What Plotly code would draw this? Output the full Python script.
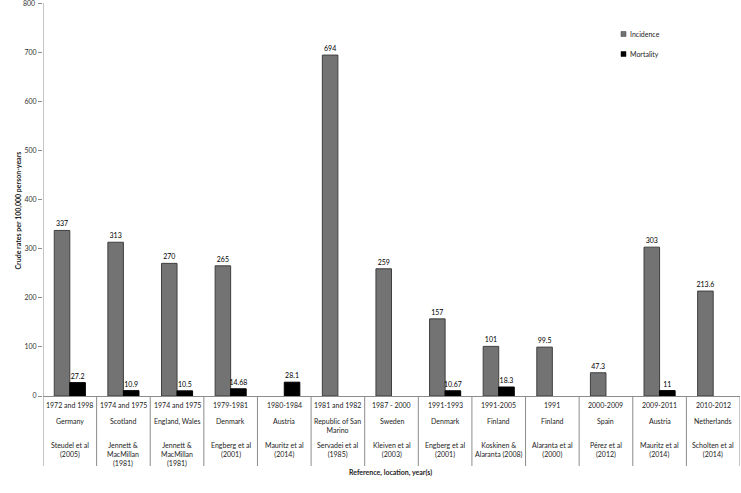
import plotly.graph_objects as go

# Data
years = ["1972 and 1998", "1974 and 1975", "1974 and 1975", "1979-1981", "1980-1984",
         "1981 and 1982", "1987 - 2000", "1991-1993", "1991-2005", "1991",
         "2000-2009", "2009-2011", "2010-2012"]
locations = ["Germany", "Scotland", "England, Wales", "Denmark", "Austria",
             "Republic of San<br>Marino", "Sweden", "Denmark", "Finland", "Finland",
             "Spain", "Austria", "Netherlands"]
references = ["Steudel et al<br>(2005)", "Jennett &<br>MacMillan<br>(1981)",
              "Jennett &<br>MacMillan<br>(1981)", "Engberg et al<br>(2001)",
              "Mauritz et al<br>(2014)", "Servadei et al<br>(1985)",
              "Kleiven et al<br>(2003)", "Engberg et al<br>(2001)",
              "Koskinen &<br>Alaranta (2008)", "Alaranta et al<br>(2000)",
              "Pérez et al<br>(2012)", "Mauritz et al<br>(2014)",
              "Scholten et al<br>(2014)"]
incidence = [337, 313, 270, 265, None, 694, 259, 157, 101, 99.5, 47.3, 303, 213.6]
incidence_lbl = ["337", "313", "270", "265", "", "694", "259", "157", "101", "99.5",
                 "47.3", "303", "213.6"]
mortality = [27.2, 10.9, 10.5, 14.68, 28.1, None, None, 10.67, 18.3, None, None, 11, None]
mortality_lbl = ["27.2", "10.9", "10.5", "14.68", "28.1", "", "", "10.67", "18.3", "",
                 "", "11", ""]
yticks = [0, 100, 200, 300, 400, 500, 600, 700, 800]
series_names = ["Incidence", "Mortality"]
series_colors = ["#737373", "#000000"]
series_lines = ["#3f3f3f", "#000000"]

FONT = "Lato"
FS = 7
W, H = 741, 493
ML, MR, MT, MB = 43, 1, 0, 97
ph = H - MT - MB
pw = W - ML - MR
# 0 sits at pixel row 396 and 800 at row 3 in the reference
YTOP = 800 + 3 * 800 / 393


def py(pix):
    # pixel row (from top of figure) to paper y
    return (H - MB - pix) / ph


def px(pix):
    return (pix - ML) / pw


xs = list(range(len(years)))

fig = go.Figure()
fig.add_trace(go.Bar(x=xs, y=incidence, name=series_names[0], text=incidence_lbl,
                     textposition="outside", cliponaxis=False, constraintext="none",
                     marker=dict(color=series_colors[0], line=dict(color=series_lines[0], width=1)),
                     textfont=dict(size=FS, color="black")))
fig.add_trace(go.Bar(x=xs, y=mortality, name=series_names[1], text=mortality_lbl,
                     textposition="outside", cliponaxis=False, constraintext="none",
                     marker=dict(color=series_colors[1], line=dict(color=series_lines[1], width=1)),
                     textfont=dict(size=FS, color="black")))

shapes = []
annotations = []
# table dividers below the axis (first one doubles as the y axis line)
for i in range(len(years) + 1):
    shapes.append(dict(type="line", xref="x", yref="paper", x0=i - 0.5, x1=i - 0.5,
                       y0=0 if i else py(3), y1=py(466), line=dict(color="#8c8c8c", width=1)))
for i in xs:
    annotations.append(dict(x=i, y=py(405), xref="x", yref="paper", text=years[i],
                            showarrow=False, yanchor="middle", font=dict(size=FS)))
    annotations.append(dict(x=i, y=py(415), xref="x", yref="paper", text=locations[i],
                            showarrow=False, yanchor="top", font=dict(size=FS)))
    annotations.append(dict(x=i, y=py(439), xref="x", yref="paper", text=references[i],
                            showarrow=False, yanchor="top", font=dict(size=FS)))

annotations.append(dict(x=px(390), y=py(479), xref="paper", yref="paper",
                        text="<b>Reference, location, year(s)</b>", showarrow=False,
                        font=dict(size=FS)))
annotations.append(dict(x=px(11), y=py(211), xref="paper", yref="paper",
                        text="<b>Crude rates per 100,000 person-years</b>", showarrow=False,
                        textangle=-90, font=dict(size=FS)))
# top tick label sits on the figure edge, plotly drops it, so place it by hand
annotations.append(dict(x=px(37), y=yticks[-1], xref="paper", yref="y",
                        text=str(yticks[-1]), showarrow=False, xanchor="right",
                        yanchor="middle", font=dict(size=FS, color="#333333")))

# small square legend like the original
for k, name in enumerate(series_names):
    yc = 34 + 20 * k
    shapes.append(dict(type="rect", xref="paper", yref="paper",
                       x0=px(621), x1=px(626), y0=py(yc + 2.5), y1=py(yc - 2.5),
                       fillcolor=series_colors[k], line=dict(color=series_lines[k], width=0.5)))
    annotations.append(dict(x=px(628), y=py(yc), xref="paper", yref="paper", text=name,
                            showarrow=False, xanchor="left", yanchor="middle",
                            font=dict(size=FS)))

fig.update_layout(
    width=W, height=H,
    margin=dict(l=ML, r=MR, t=MT, b=MB),
    paper_bgcolor="white", plot_bgcolor="white",
    font=dict(family=FONT, size=FS, color="#222222"),
    barmode="group", bargap=0.42, bargroupgap=0,
    showlegend=False,
    xaxis=dict(range=[-0.5, len(years) - 0.5], showticklabels=False, showgrid=False,
               zeroline=False, showline=False, ticks=""),
    yaxis=dict(range=[0, YTOP], tickvals=yticks,
               ticktext=[str(v) for v in yticks[:-1]] + [""],
               showgrid=False, zeroline=True,
               zerolinecolor="#8c8c8c", zerolinewidth=1, showline=False,
               ticks="outside", ticklen=4, tickcolor="#8c8c8c",
               tickfont=dict(size=FS, color="#333333")),
    shapes=shapes,
    annotations=annotations,
)

# page has a default body margin; remove it so the figure sits at the window corner
fig.write_html("out.html", config={"displayModeBar": False},
               post_script="document.body.style.margin='0';")
